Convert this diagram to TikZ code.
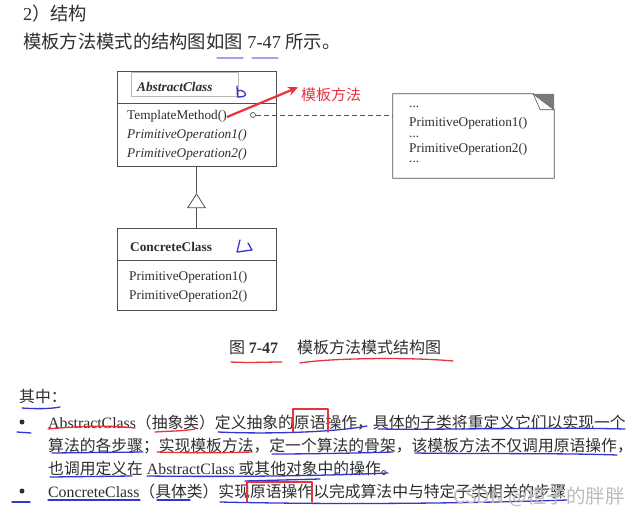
\documentclass[tikz,border=0pt]{standalone}
\usepackage{fontspec}
\setmainfont{Liberation Serif}
\newfontfamily\cjk{Noto Sans CJK SC}
\newcommand{\zh}[1]{{\cjk #1}}
\usetikzlibrary{arrows.meta, calc}
\definecolor{ink}{HTML}{2E2E2E}
\definecolor{umlgray}{HTML}{505050}
\definecolor{foldgray}{HTML}{7A7A7A}
\definecolor{penred}{HTML}{E8323C}
\definecolor{penblue}{HTML}{3535D0}
\definecolor{wmgray}{HTML}{BDBDBD}

\begin{document}
\begin{tikzpicture}[
  x=1pt, y=-1pt,
  >={Stealth[length=10pt, width=9pt]},
  classbox/.style={draw=umlgray, line width=0.8pt, minimum width=159pt, inner sep=0pt},
  umltxt/.style={font=\fontsize{13.3}{15}\selectfont, text=ink, anchor=west,
    inner sep=0pt, text height=10pt, text depth=1pt},
  umlit/.style={umltxt, font=\fontsize{13.3}{15}\selectfont\itshape},
  umlbf/.style={umltxt, font=\fontsize{13.3}{15}\selectfont\bfseries},
  notetxt/.style={font=\fontsize{13.3}{15}\selectfont, text=ink, anchor=base west, inner sep=0pt},
  bodyline/.style={font=\fontsize{15.8}{18}\selectfont, text=ink, anchor=west,
    inner sep=0pt, text height=14pt, text depth=2pt},
  bluepen/.style={penblue, line width=1.3pt, line cap=round, line join=round},
  redpen/.style={penred, line width=1.3pt, line cap=round, line join=round},
]

% Page
\useasboundingbox (0,0) rectangle (639,516);
\fill[white] (0,0) rectangle (639,516);

% === Heading ===
\node[bodyline, font=\fontsize{18.3}{20}\selectfont, text height=16pt, text depth=2pt]
  (sec) at (23,14) {2\zh{）结构}};
\node[bodyline, font=\fontsize{18.3}{20}\selectfont, text height=16pt, text depth=2pt]
  (intro) at (23,42) {\zh{模板方法模式的结构图如图} 7-47 \zh{所示。}};
\draw[bluepen, opacity=.45] (217,58) -- (243,58);
\draw[bluepen, opacity=.45] (252,58) -- (278,58);

% === AbstractClass ===
\node[classbox, minimum height=32pt] (abshead) at (196.5,87) {};
\node[classbox, minimum height=63pt, anchor=north] (absbody) at (abshead.south) {};
\node[draw=gray!55, line width=0.6pt, minimum width=107pt, minimum height=24pt,
  inner sep=0pt] (absname) at (184.5,84) {};
\node[umltxt, font=\fontsize{13.3}{15}\selectfont\bfseries\itshape] (abstitle) at (137,87) {AbstractClass};
\node[umltxt] (tmpl) at (127,115) {TemplateMethod()};
\node[umlit] (absop1) at (127,134) {PrimitiveOperation1()};
\node[umlit] (absop2) at (127,153) {PrimitiveOperation2()};

% === Note ===
\node[minimum width=161pt, minimum height=84pt, inner sep=0pt] (note) at (473.5,136) {};
\draw[umlgray, line width=0.8pt] (note.north west) -- ($(note.north east)+(-21,0)$)
  -- ($(note.north east)+(0,16)$) -- (note.south east) -- (note.south west) -- cycle;
\fill[foldgray] ($(note.north east)+(-21,0)$) -- (note.north east)
  -- ($(note.north east)+(0,16)$) -- cycle;
\draw[umlgray, line width=0.6pt] ($(note.north east)+(-21,0)$)
  -- ($(note.north east)+(-14,16)$) -- ($(note.north east)+(0,16)$);
\node[notetxt] (nd1) at (409,108) {...};
\node[notetxt] (nop1) at (409,126) {PrimitiveOperation1()};
\node[notetxt] (nd2) at (409,137) {...};
\node[notetxt] (nop2) at (409,152) {PrimitiveOperation2()};
\node[notetxt] (nd3) at (409,162) {...};

\node[circle, draw=umlgray, line width=0.7pt, minimum size=5pt, inner sep=0pt] (dot) at (253,115) {};
\draw[umlgray, line width=0.8pt, dash pattern=on 5pt off 3pt] (dot.east) -- (dot -| note.west);

% === ConcreteClass ===
\node[classbox, minimum height=32pt] (conhead) at (196.5,244) {};
\node[classbox, minimum height=50pt, anchor=north] (conbody) at (conhead.south) {};
\node[umlbf] (contitle) at (130,247) {ConcreteClass};
\node[umltxt] (conop1) at (129,276) {PrimitiveOperation1()};
\node[umltxt] (conop2) at (129,295) {PrimitiveOperation2()};

% Generalization
\coordinate (apex) at ($(absbody.south)+(0,26)$);
\draw[umlgray, line width=0.8pt, -{Triangle[open, length=15pt, width=19pt]}]
  (conhead.north) -- (apex);
\draw[umlgray, line width=0.8pt] (apex) -- (absbody.south);

% === Annotations in the diagram ===
\node[font=\cjk\fontsize{15}{17}\selectfont, text=penred, anchor=west, inner sep=0pt,
  text height=13pt, text depth=2pt] (tmlabel) at (301,95) {模板方法};
\coordinate (tmtail) at (227,117);
\draw[->, penred, line width=2.2pt] (tmtail) -- ([xshift=-3pt]tmlabel.north west);
\draw[bluepen] (237,86) -- (237.5,97) .. controls (243,97) and (247,96) .. (245,93)
  .. controls (243,90) and (239,90) .. (237.5,91);
\draw[bluepen] (240,240) -- (237,252) -- (252,250) -- (248,243);

% === Caption ===
\node[bodyline, font=\cjk\fontsize{16}{18}\selectfont] (capnum) at (229,347) {图 {\rmfamily\bfseries 7-47}};
\node[bodyline, font=\cjk\fontsize{16}{18}\selectfont] (captitle) at (297,347) {模板方法模式结构图};
\draw[redpen] (231,362) .. controls (250,363) and (265,362) .. (282,362);
\draw[redpen] (300,363) .. controls (330,358) and (410,357) .. (453,361);

% === Body text ===
\node[bodyline] (where) at (19,396) {\zh{其中：}};
\node[circle, fill=ink, minimum size=5pt, inner sep=0pt] (bul1) at (22,422) {};
\node[bodyline] (l1) at (48,422) {AbstractClass\zh{（抽象类）定义抽象的原语操作，具体的子类将重定义它们以实现一个}};
\node[bodyline] (l2) at (48,445) {\zh{算法的各步骤；实现模板方法，定一个算法的骨架，该模板方法不仅调用原语操作，}};
\node[bodyline] (l3) at (48,468) {\zh{也调用定义在} AbstractClass \zh{或其他对象中的操作。}};
\node[circle, fill=ink, minimum size=5pt, inner sep=0pt] (bul2) at (22,491) {};
\node[bodyline] (l4) at (48,491) {ConcreteClass\zh{（具体类）实现原语操作以完成算法中与特定子类相关的步骤}};

% Hand marks on the text
\draw[bluepen] (22,408) .. controls (35,409) and (50,409) .. (60,407);
\draw[bluepen] (17,432) -- (31,433);
\draw[redpen] (48,429) .. controls (80,426) and (110,425) .. (135,428);
\draw[redpen] (155,432) .. controls (170,431) and (185,431) .. (195,429);
\draw[bluepen] (218,432) .. controls (260,434) and (330,433) .. (367,426);
\draw[redpen] (293,432) -- (293,409) -- (328,409) -- (328,432);
\draw[bluepen] (378,429) .. controls (450,430) and (550,427) .. (625,429);
\draw[bluepen] (52,453) -- (143,452);
\draw[redpen] (157,452) .. controls (190,453) and (220,453) .. (252,452);
\draw[bluepen] (272,454) .. controls (310,454) and (360,453) .. (393,452);
\draw[bluepen] (415,453) .. controls (480,454) and (560,453) .. (617,455);
\draw[bluepen] (50,477) -- (132,476);
\draw[bluepen] (147,476) .. controls (230,477) and (320,476) .. (388,473);
\draw[bluepen] (245,481) -- (320,479);
\draw[bluepen] (12,502) -- (30,502);
\draw[bluepen] (48,500) -- (140,500);
\draw[bluepen] (157,500) -- (190,500);
\draw[bluepen] (220,502) .. controls (350,505) and (480,503) .. (567,500);
\draw[redpen] (247,502) -- (247,482) -- (312,482) -- (312,502);

% Watermark
\node[font=\cjk\fontsize{19.5}{21}\selectfont, text=wmgray, anchor=west, inner sep=0pt]
  (wm) at (453,497) {CSDN @橙子的胖胖};

\end{tikzpicture}
\end{document}
